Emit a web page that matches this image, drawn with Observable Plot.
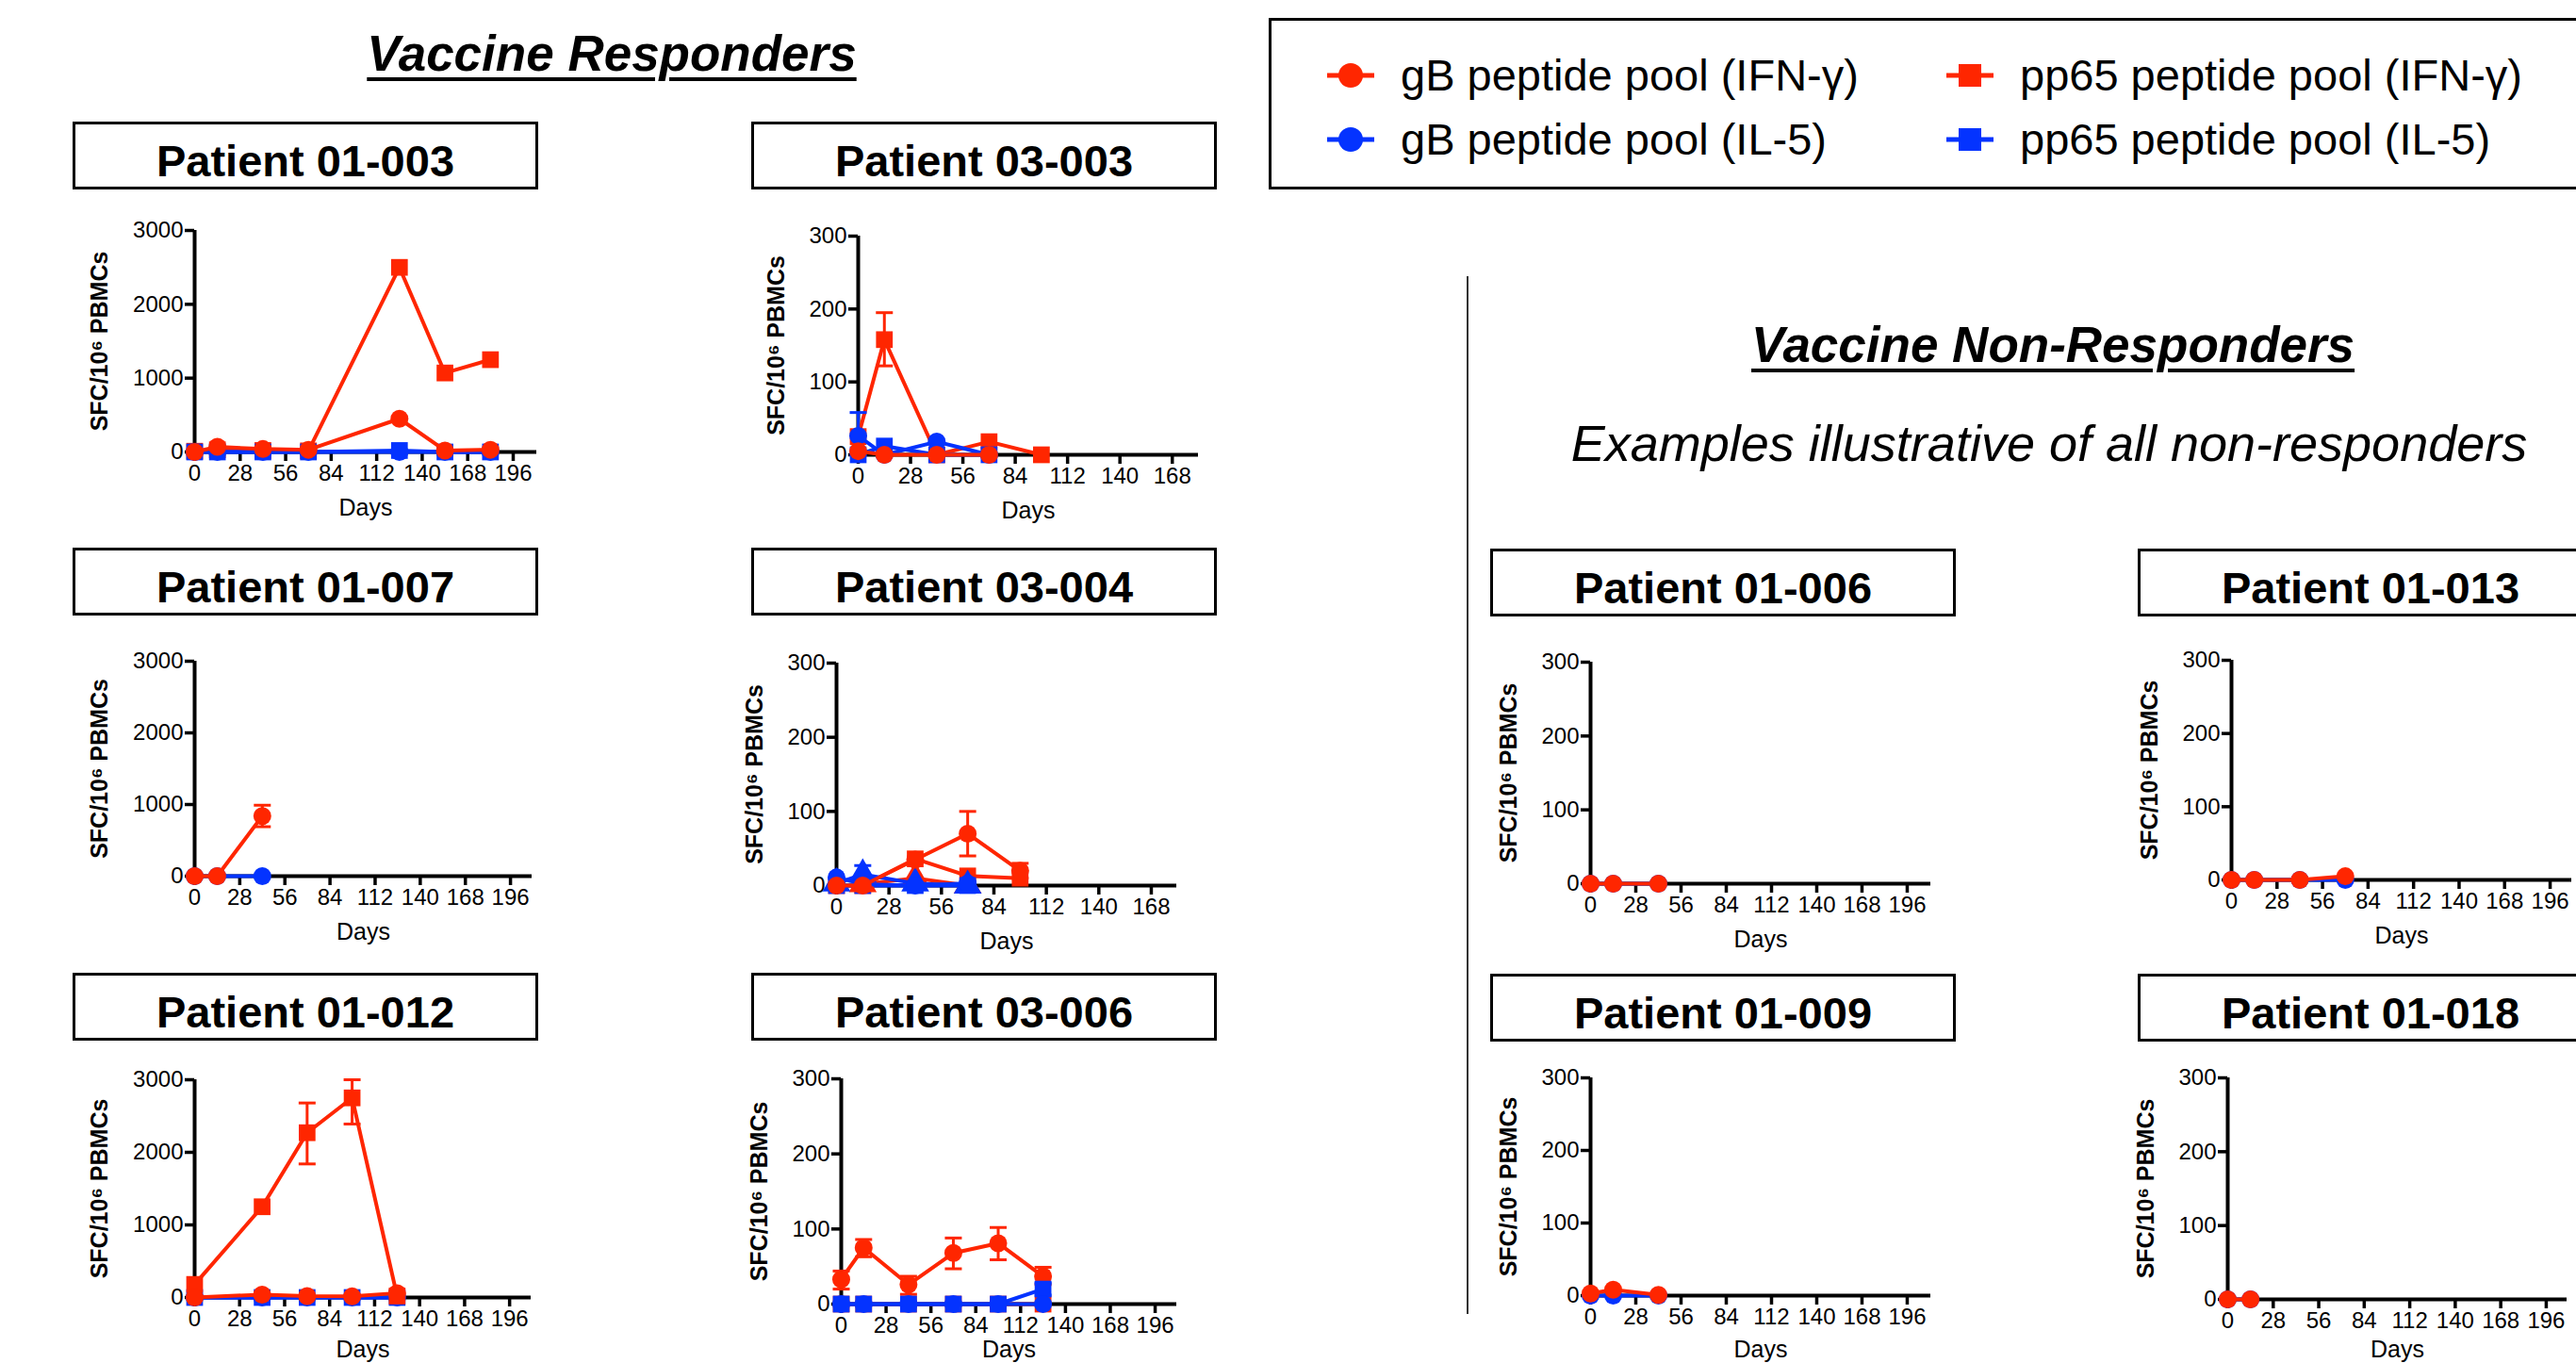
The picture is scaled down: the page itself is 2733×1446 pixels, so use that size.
<!DOCTYPE html>
<html>
<head>
<meta charset="utf-8">
<script src="https://cdn.jsdelivr.net/npm/d3@7"></script>
<script src="https://cdn.jsdelivr.net/npm/@observablehq/plot@0.6"></script>
<style>
  html, body { margin: 0; padding: 0; background: #fff; }
  #page { position: relative; width: 2733px; height: 1446px; overflow: hidden; background: #fff;
          font-family: "Liberation Sans", Arial, Helvetica, sans-serif; color: #000; }
  .abs { position: absolute; }
  .head { position: absolute; font-weight: bold; font-style: italic; text-decoration: underline;
          text-decoration-thickness: 4px; text-underline-offset: 7px; font-size: 53px; line-height: 53px;
          white-space: nowrap; text-align: center; }
  .sub { position: absolute; font-style: italic; font-size: 54px; line-height: 54px; white-space: nowrap; text-align: center; }
  .tbox { position: absolute; box-sizing: border-box; border: 3px solid #000; background: #fff; height: 72px; }
  .tbox span { position: absolute; left: 0; right: 0; top: 15px; text-align: center; font-weight: bold;
               font-size: 47px; line-height: 47px; white-space: nowrap; }
  .leg { position: absolute; box-sizing: border-box; border: 3px solid #000; }
  .item { position: absolute; height: 60px; display: flex; align-items: center; white-space: nowrap; }
  .item span { font-size: 47px; line-height: 60px; }
</style>
</head>
<body>
<div id="page"></div>
<script>
// ---------------- data ----------------
const seriesNames = ["gB peptide pool (IFN-γ)", "gB peptide pool (IL-5)", "pp65 peptide pool (IFN-γ)", "pp65 peptide pool (IL-5)"];
const patients = ["Patient 01-003", "Patient 03-003", "Patient 01-007", "Patient 03-004", "Patient 01-012", "Patient 03-006",
                  "Patient 01-006", "Patient 01-013", "Patient 01-009", "Patient 01-018"];
const xTicks196 = [0, 28, 56, 84, 112, 140, 168, 196];
const xTicks168 = [0, 28, 56, 84, 112, 140, 168];
const yTicks3000 = [0, 1000, 2000, 3000];
const yTicks300 = [0, 100, 200, 300];

// Patient 01-003
const days_01_003 = [0, 14, 42, 70, 126, 154, 182];
const gbIFN_01_003 = [0, 70, 40, 30, 450, 20, 30];
const gbIL5_01_003 = [0, 0, 0, 0, 0, 0, 0];
const ppIFN_01_003 = [10, 30, 20, 15, 2500, 1070, 1250];
const ppIL5_01_003 = [0, 0, 0, 0, 20, 0, 0];
// Patient 01-007
const days_01_007 = [0, 14, 42];
const gbIFN_01_007 = [0, 0, 840];
const gbIFN_01_007_lo = [null, null, 690];
const gbIFN_01_007_hi = [null, null, 990];
const gbIL5_01_007 = [0, 0, 0];
// Patient 01-012
const days_01_012 = [0, 42, 70, 98, 126];
const ppIFN_01_012 = [180, 1250, 2270, 2750, 20];
const ppIFN_01_012_lo = [null, null, 1840, 2390, null];
const ppIFN_01_012_hi = [null, null, 2680, 3000, null];
const ppIL5_01_012 = [0, 0, 0, 0, 0];
const gbIL5_01_012 = [0, 0, 0, 0, 0];
const gbIFN_01_012 = [0, 40, 20, 15, 60];
// Patient 03-003
const days_03_003 = [0, 14, 42, 70, 98];
const ppIFN_03_003 = [25, 158, 0, 18, 0];
const ppIFN_03_003_lo = [null, 122, null, null, null];
const ppIFN_03_003_hi = [null, 195, null, null, null];
const ppIL5_03_003 = [0, 12, 0, 0, null];
const gbIL5_03_003 = [26, 0, 18, 0, null];
const gbIL5_03_003_lo = [0, null, null, null, null];
const gbIL5_03_003_hi = [58, null, null, null, null];
const gbIFN_03_003 = [5, 0, 0, 0, null];
// Patient 03-004
const days_03_004 = [0, 14, 42, 70, 98];
const ppIFN_03_004 = [0, 0, 36, 13, 10];
const ppIL5_03_004 = [0, 0, 0, 0, null];
const triIFN_03_004 = [null, 2, 10, 0, null];
const triIL5_03_004 = [3, 15, 3, 0, null];
const triIL5_03_004_lo = [null, 3, null, null, null];
const triIL5_03_004_hi = [null, 27, null, null, null];
const gbIL5_03_004 = [11, 2, 0, 3, null];
const gbIFN_03_004 = [0, 0, 35, 70, 20];
const gbIFN_03_004_lo = [null, null, null, 40, 10];
const gbIFN_03_004_hi = [null, null, null, 100, 30];
// Patient 03-006
const days_03_006 = [0, 14, 42, 70, 98, 126];
const ppIFN_03_006 = [0, 0, 0, 0, 0, 0];
const ppIL5_03_006 = [0, 0, 0, 0, 0, 20];
const ppIL5_03_006_lo = [null, null, null, null, null, 12];
const ppIL5_03_006_hi = [null, null, null, null, null, 28];
const gbIFN_03_006 = [33, 75, 26, 68, 81, 37];
const gbIFN_03_006_lo = [20, 63, 13, 47, 59, 26];
const gbIFN_03_006_hi = [44, 86, 37, 88, 102, 49];
const gbIL5_03_006 = [0, 0, 0, 0, 0, 0];
// Non-responders
const days_01_006 = [0, 14, 42];
const gbIL5_01_006 = [0, 0, 0];
const gbIFN_01_006 = [0, 0, 0];
const days_01_013 = [0, 14, 42, 70];
const gbIL5_01_013 = [0, 0, 0, 0];
const gbIFN_01_013 = [0, 0, 0, 5];
const days_01_009 = [0, 14, 42];
const gbIL5_01_009 = [0, 0, 0];
const gbIFN_01_009 = [3, 8, 1];
const days_01_018 = [0, 14];
const gbIL5_01_018 = [0, 0];
const gbIFN_01_018 = [0, 0];

// ---------------- styles ----------------
const RED = "#ff2600";
const BLUE = "#0433ff";
const FONT = "'Liberation Sans', Arial, Helvetica, sans-serif";
const capSymbol = { draw(ctx, size) { const w = Math.sqrt(size / Math.PI); ctx.moveTo(-w, 0); ctx.lineTo(w, 0); } };

function rows(days, vals, lo, hi) {
  return days.map((d, i) => ({ day: d, v: vals[i], lo: lo ? lo[i] : null, hi: hi ? hi[i] : null }))
             .filter(r => r.v != null);
}
function S(kind, days, vals, lo, hi) {
  const spec = {
    ppIFN: { color: RED, symbol: "square", r: 10 },
    ppIL5: { color: BLUE, symbol: "square", r: 10 },
    triIFN: { color: RED, symbol: "triangle", r: 11 },
    triIL5: { color: BLUE, symbol: "triangle", r: 11 },
    gbIL5: { color: BLUE, symbol: "circle", r: 9.5 },
    gbIFN: { color: RED, symbol: "circle", r: 9.5 }
  }[kind];
  return { ...spec, data: rows(days, vals, lo, hi) };
}
function seriesMarks(s) {
  const err = s.data.filter(d => d.lo != null && d.hi != null);
  return [
    Plot.line(s.data, { x: "day", y: "v", stroke: s.color, strokeWidth: 4 }),
    Plot.ruleX(err, { x: "day", y1: "lo", y2: "hi", stroke: s.color, strokeWidth: 3 }),
    Plot.dot(err, { x: "day", y: "hi", symbol: capSymbol, r: 9, fill: "none", stroke: s.color, strokeWidth: 3 }),
    Plot.dot(err, { x: "day", y: "lo", symbol: capSymbol, r: 9, fill: "none", stroke: s.color, strokeWidth: 3 }),
    Plot.dot(s.data, { x: "day", y: "v", symbol: s.symbol, r: s.r, fill: s.color, stroke: "none" })
  ];
}

// panel layout: x0 = y-axis position, xEnd = end of x axis, yTop = top tick, yBot = zero line
const panels = [
  { title: patients[0], box: [77, 129], x0: 206, xEnd: 569, yTop: 244, yBot: 479, xMax: 210.5, xTicks: xTicks196, yTicks: yTicks3000, labDx: -101,
    series: [S("ppIFN", days_01_003, ppIFN_01_003), S("ppIL5", days_01_003, ppIL5_01_003), S("gbIL5", days_01_003, gbIL5_01_003), S("gbIFN", days_01_003, gbIFN_01_003)] },
  { title: patients[1], box: [797, 129], x0: 910, xEnd: 1271, yTop: 250, yBot: 482, xMax: 182, xTicks: xTicks168, yTicks: yTicks300, labDx: -87,
    series: [S("ppIFN", days_03_003, ppIFN_03_003, ppIFN_03_003_lo, ppIFN_03_003_hi), S("ppIL5", days_03_003, ppIL5_03_003),
             S("gbIL5", days_03_003, gbIL5_03_003, gbIL5_03_003_lo, gbIL5_03_003_hi), S("gbIFN", days_03_003, gbIFN_03_003)] },
  { title: patients[2], box: [77, 581], x0: 206, xEnd: 564, yTop: 701, yBot: 929, xMax: 209.4, xTicks: xTicks196, yTicks: yTicks3000, labDx: -101,
    series: [S("gbIL5", days_01_007, gbIL5_01_007), S("gbIFN", days_01_007, gbIFN_01_007, gbIFN_01_007_lo, gbIFN_01_007_hi)] },
  { title: patients[3], box: [797, 581], x0: 887, xEnd: 1248, yTop: 703, yBot: 939, xMax: 181.6, xTicks: xTicks168, yTicks: yTicks300, labDx: -87,
    series: [S("ppIFN", days_03_004, ppIFN_03_004), S("ppIL5", days_03_004, ppIL5_03_004), S("triIFN", days_03_004, triIFN_03_004),
             S("triIL5", days_03_004, triIL5_03_004, triIL5_03_004_lo, triIL5_03_004_hi), S("gbIL5", days_03_004, gbIL5_03_004),
             S("gbIFN", days_03_004, gbIFN_03_004, gbIFN_03_004_lo, gbIFN_03_004_hi)] },
  { title: patients[4], box: [77, 1032], x0: 206, xEnd: 563, yTop: 1145, yBot: 1376, xMax: 209.4, xTicks: xTicks196, yTicks: yTicks3000, labDx: -101,
    series: [S("ppIL5", days_01_012, ppIL5_01_012), S("gbIL5", days_01_012, gbIL5_01_012),
             S("ppIFN", days_01_012, ppIFN_01_012, ppIFN_01_012_lo, ppIFN_01_012_hi), S("gbIFN", days_01_012, gbIFN_01_012)] },
  { title: patients[5], box: [797, 1032], x0: 892, xEnd: 1248, yTop: 1144, yBot: 1383, xMax: 209.5, xTicks: xTicks196, yTicks: yTicks300, labDx: -87,
    series: [S("ppIFN", days_03_006, ppIFN_03_006), S("gbIFN", days_03_006, gbIFN_03_006, gbIFN_03_006_lo, gbIFN_03_006_hi),
             S("ppIL5", days_03_006, ppIL5_03_006, ppIL5_03_006_lo, ppIL5_03_006_hi), S("gbIL5", days_03_006, gbIL5_03_006)] },
  { title: patients[6], box: [1581, 582], x0: 1687, xEnd: 2048, yTop: 702, yBot: 937, xMax: 210.6, xTicks: xTicks196, yTicks: yTicks300, labDx: -87,
    series: [S("gbIL5", days_01_006, gbIL5_01_006), S("gbIFN", days_01_006, gbIFN_01_006)] },
  { title: patients[7], box: [2268, 582], x0: 2367, xEnd: 2728, yTop: 700, yBot: 933, xMax: 209.3, xTicks: xTicks196, yTicks: yTicks300, labDx: -87,
    series: [S("gbIL5", days_01_013, gbIL5_01_013), S("gbIFN", days_01_013, gbIFN_01_013)] },
  { title: patients[8], box: [1581, 1033], x0: 1687, xEnd: 2048, yTop: 1143, yBot: 1374, xMax: 210.6, xTicks: xTicks196, yTicks: yTicks300, labDx: -87,
    series: [S("gbIL5", days_01_009, gbIL5_01_009), S("gbIFN", days_01_009, gbIFN_01_009)] },
  { title: patients[9], box: [2268, 1033], x0: 2363, xEnd: 2723, yTop: 1143, yBot: 1378, xMax: 208.8, xTicks: xTicks196, yTicks: yTicks300, labDx: -87,
    series: [S("gbIL5", days_01_018, gbIL5_01_018), S("gbIFN", days_01_018, gbIFN_01_018)] }
];

const page = document.getElementById("page");
function add(html) { const t = document.createElement("template"); t.innerHTML = html.trim(); const el = t.content.firstChild; page.appendChild(el); return el; }

// headings
add(`<div class="head" style="left:349px; top:30px; width:600px;">Vaccine Responders</div>`);
add(`<div class="head" style="left:1858px; top:339px; width:600px;">Vaccine Non-Responders</div>`);
add(`<div class="sub" style="left:1574px; top:443px; width:1200px;">Examples illustrative of all non-responders</div>`);
// divider
add(`<div class="abs" style="left:1556px; top:293px; width:2px; height:1101px; background:#333;"></div>`);

// legend
const legSym = (color, shape) => {
  const mark = shape === "circle"
    ? `<circle cx="25" cy="15" r="13" fill="${color}"/>`
    : `<rect x="13" y="3" width="24" height="24" fill="${color}"/>`;
  return `<svg width="50" height="30" style="margin-right:28px"><line x1="0" x2="50" y1="15" y2="15" stroke="${color}" stroke-width="5"/>${mark}</svg>`;
};
add(`<div class="leg" style="left:1346px; top:19px; width:1420px; height:182px;"></div>`);
const legendItems = [
  { name: seriesNames[0], color: RED, shape: "circle", x: 1408, y: 50 },
  { name: seriesNames[1], color: BLUE, shape: "circle", x: 1408, y: 118 },
  { name: seriesNames[2], color: RED, shape: "square", x: 2065, y: 50 },
  { name: seriesNames[3], color: BLUE, shape: "square", x: 2065, y: 118 }
];
for (const it of legendItems) {
  add(`<div class="item" style="left:${it.x}px; top:${it.y}px;">${legSym(it.color, it.shape)}<span>${it.name}</span></div>`);
}

// panels
const mL = 130, mR = 30, mT = 22, mB = 90;
for (const p of panels) {
  add(`<div class="tbox" style="left:${p.box[0]}px; top:${p.box[1]}px; width:494px;"><span>${p.title}</span></div>`);
  const W = p.xEnd - p.x0, H = p.yBot - p.yTop;
  const daysDy = Math.min(59, 1446 - 15 - p.yBot);
  const chart = Plot.plot({
    width: W + mL + mR, height: H + mT + mB,
    marginLeft: mL, marginRight: mR, marginTop: mT, marginBottom: mB,
    x: { domain: [0, p.xMax] },
    y: { domain: [0, p.yTicks[p.yTicks.length - 1]] },
    style: { fontFamily: FONT, fontSize: "24px", color: "#000", background: "transparent", overflow: "visible" },
    marks: [
      Plot.axisX({ ticks: p.xTicks, tickSize: 10, tickPadding: 3, strokeWidth: 3.5, label: null, tickFormat: d => String(d), fontSize: 24 }),
      Plot.axisY({ ticks: p.yTicks, tickSize: 10, tickPadding: 2, strokeWidth: 3.5, label: null, tickFormat: d => String(d), fontSize: 24 }),
      Plot.ruleY([0], { strokeWidth: 4 }),
      Plot.ruleX([0], { strokeWidth: 4 }),
      Plot.text(["SFC/10⁶ PBMCs"], { frameAnchor: "left", dx: p.labDx, rotate: -90, textAnchor: "middle", lineAnchor: "middle", fontWeight: "bold", fontSize: 25 }),
      Plot.text(["Days"], { frameAnchor: "bottom", dy: daysDy, textAnchor: "middle", lineAnchor: "middle", fontSize: 25 }),
      ...p.series.flatMap(seriesMarks)
    ]
  });
  chart.style.position = "absolute";
  chart.style.left = (p.x0 - mL) + "px";
  chart.style.top = (p.yTop - mT) + "px";
  page.appendChild(chart);
}
</script>
</body>
</html>
